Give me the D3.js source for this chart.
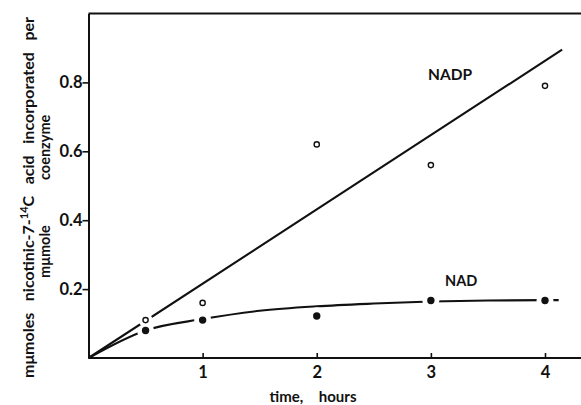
<!DOCTYPE html>
<html>
<head>
<meta charset="utf-8">
<script src="https://cdn.jsdelivr.net/npm/d3@7"></script>
<style>
  body { margin: 0; background: #fff; }
  svg text { font-family: Lato, "Liberation Sans", sans-serif; font-weight: 700; fill: #111; }
</style>
</head>
<body>
<svg width="581" height="405"></svg>
<script>
// tijdstippen (uren)
const hours = [0.5, 1, 2, 3, 4];
// open cirkels: NADP
const nadpValues = [0.11, 0.16, 0.62, 0.56, 0.79];
// dichte cirkels: NAD
const nadValues = [0.08, 0.11, 0.122, 0.167, 0.167];
// rechte lijn door NADP
const nadpFitT = [0, 4.15];
const nadpFitV = [0, 0.895];
// gebogen lijn door NAD
const nadFitT = [0, 0.5, 1, 1.5, 2, 2.5, 3, 3.5, 4, 4.12];
const nadFitV = [0, 0.08, 0.113, 0.137, 0.150, 0.158, 0.164, 0.167, 0.168, 0.168];
const xTicks = [1, 2, 3, 4];
const yTicks = [0.2, 0.4, 0.6, 0.8];

const svg = d3.select('svg');
const width = +svg.attr('width');

const x = d3.scaleLinear().domain([0, 4]).range([88.5, 545]);
const y = d3.scaleLinear().domain([0, 1]).range([358, 13.5]);

// assen
const gx = svg.append('g').attr('transform', `translate(0, ${y(0)})`)
    .call(d3.axisBottom(x).tickValues(xTicks).tickFormat(d3.format('d'))
        .tickSizeInner(-5).tickSizeOuter(0).tickPadding(8));
gx.select('.domain').attr('d', `M${x(0)},0H${width}`);
const gy = svg.append('g').attr('transform', `translate(${x(0)}, 0)`)
    .call(d3.axisLeft(y).tickValues(yTicks).tickFormat(d3.format('.1f'))
        .tickSize(6).tickSizeOuter(0).tickPadding(0));
svg.selectAll('.domain').attr('stroke', '#111').attr('stroke-width', 2);
svg.selectAll('.tick line').attr('stroke', '#111').attr('stroke-width', 1.6);
svg.selectAll('.tick text').attr('font-family', null).style('font-size', '16.5px');

// bovenrand
svg.append('line')
    .attr('x1', x(0)).attr('x2', width)
    .attr('y1', y(1)).attr('y2', y(1))
    .attr('stroke', '#111').attr('stroke-width', 2);

const line = d3.line().x(d => x(d[0])).y(d => y(d[1]));
const nad = hours.map((t, i) => ({t, v: nadValues[i]}));
const nadp = hours.map((t, i) => ({t, v: nadpValues[i]}));

// lijn + witte ruimte rond de punten, per reeks
const drawSeries = (pts, data, curve, halo) => {
    svg.append('path').attr('d', line.curve(curve)(pts))
        .attr('fill', 'none').attr('stroke', '#111').attr('stroke-width', 2.1);
    svg.append('g').selectAll('circle').data(data)
        .enter().append('circle')
        .attr('cx', d => x(d.t)).attr('cy', d => y(d.v))
        .attr('r', halo).attr('fill', '#fff');
};
drawSeries(nadFitT.map((t, i) => [t, nadFitV[i]]), nad, d3.curveMonotoneX, 8.5);
drawSeries(nadpFitT.map((t, i) => [t, nadpFitV[i]]), nadp, d3.curveLinear, 7);

svg.selectAll('circle.nad').data(nad)
    .enter().append('circle')
    .attr('class', 'nad')
    .attr('cx', d => x(d.t)).attr('cy', d => y(d.v))
    .attr('r', 3.7).attr('fill', '#111');
svg.selectAll('circle.nadp').data(nadp)
    .enter().append('circle')
    .attr('class', 'nadp')
    .attr('cx', d => x(d.t)).attr('cy', d => y(d.v))
    .attr('r', 2.6).attr('fill', '#fff').attr('stroke', '#111').attr('stroke-width', 1.4);

// labels
svg.append('text').attr('x', 428).attr('y', 80).attr('font-size', 15.5).text('NADP');
svg.append('text').attr('x', 445).attr('y', 286).attr('font-size', 14.5).text('NAD');

// tekst uitrekken met woordafstand
const spread = (sel, len) => {
    const w = sel.node().getComputedTextLength();
    const n = (sel.text().match(/ /g) || []).length;
    sel.style('word-spacing', ((len - w) / n) + 'px');
};

const xt = svg.append('text').attr('x', 313).attr('y', 402).attr('font-size', 15)
    .attr('text-anchor', 'middle').text('time, hours');
spread(xt, 87);

// y-as titel
const t1 = svg.append('text')
    .attr('transform', 'translate(34, 378) rotate(-90)')
    .attr('font-size', 16);
t1.append('tspan').text('mμmoles nicotinic-7-');
t1.append('tspan').attr('dy', -6).attr('font-size', 11).text('14');
t1.append('tspan').attr('dy', 6).text('C acid incorporated per');
spread(t1, 361);

svg.append('text')
    .attr('transform', 'translate(50, 278) rotate(-90)')
    .attr('font-size', 14.5).text('mμmole');
svg.append('text')
    .attr('transform', 'translate(50, 180) rotate(-90)')
    .attr('font-size', 14.5).text('coenzyme');
</script>
</body>
</html>
